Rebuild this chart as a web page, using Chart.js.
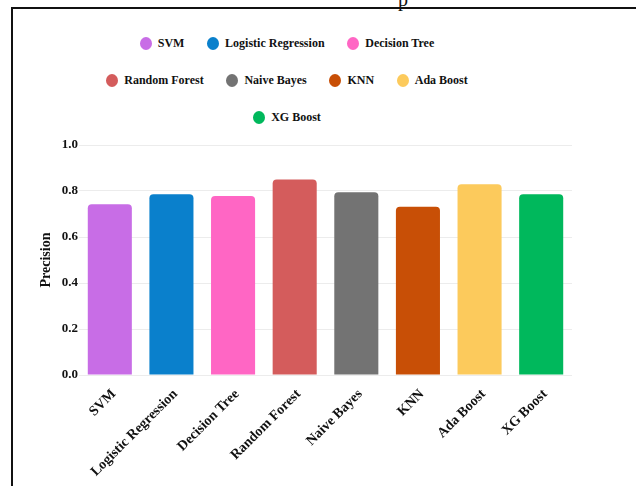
<!DOCTYPE html>
<html>
<head>
<meta charset="utf-8">
<script src="https://cdn.jsdelivr.net/npm/chart.js@4.4.1/dist/chart.umd.min.js"></script>
<style>
  body { margin: 0; width: 636px; height: 486px; background: #fff; position: relative; overflow: hidden; font-family: "Liberation Serif", serif; }
  #frame { position: absolute; left: 11px; top: 7px; width: 640px; height: 500px; border-left: 2px solid #111; border-top: 2px solid #111; }
  #top-title { position: absolute; left: 398px; top: -12px; font-size: 20px; color: #111; }
  #legend { position: absolute; left: 92px; top: 36px; width: 390px; display: flex; flex-wrap: wrap; justify-content: center; column-gap: 22.7px; row-gap: 23px; }
  .item { display: flex; align-items: center; height: 14px; font-weight: bold; font-size: 12px; color: #111; white-space: nowrap; }
  .dot { width: 12px; height: 13px; border-radius: 50%; margin-right: 6px; }
  #chart { position: absolute; left: 14px; top: 130px; }
</style>
</head>
<body>
<div id="frame"></div>
<div id="top-title">p</div>
<div id="legend"></div>
<canvas id="chart" width="622" height="356"></canvas>
<script>
const models = ["SVM", "Logistic Regression", "Decision Tree", "Random Forest", "Naive Bayes", "KNN", "Ada Boost", "XG Boost"];
const precision = [0.742, 0.786, 0.778, 0.850, 0.795, 0.732, 0.829, 0.786];
const barColors = ["#c86de6", "#0a80cc", "#ff66c4", "#d45c5c", "#737373", "#c84f06", "#fcca5c", "#00b85c"];
const yTicks = [0, 0.2, 0.4, 0.6, 0.8, 1.0];

// html legend, one entry per bar
const legendBox = document.getElementById("legend");
for (let i = 0; i < models.length; i++) {
  let item = document.createElement("div");
  item.className = "item";
  let dot = document.createElement("span");
  dot.className = "dot";
  dot.style.background = barColors[i];
  item.appendChild(dot);
  item.appendChild(document.createTextNode(models[i]));
  legendBox.appendChild(item);
}

const serif = "'Liberation Serif', 'Times New Roman', serif";

new Chart(document.getElementById("chart").getContext("2d"), {
  type: "bar",
  data: {
    labels: models,
    datasets: [{
      label: "Precision",
      data: precision,
      backgroundColor: barColors,
      borderRadius: 4,
      borderSkipped: "start",
      barPercentage: 0.715,
      categoryPercentage: 1.0
    }]
  },
  options: {
    responsive: false,
    animation: false,
    devicePixelRatio: 1,
    layout: { padding: { top: 15, right: 64, bottom: 0, left: 0 } },
    plugins: {
      legend: { display: false },
      tooltip: { enabled: false }
    },
    scales: {
      x: {
        grid: { display: false },
        border: { display: false },
        ticks: {
          minRotation: 45,
          maxRotation: 45,
          labelOffset: 4,
          color: "#111",
          font: { family: serif, size: 14, weight: "bold" }
        },
        afterFit: function (scale) { scale.height = 111; }
      },
      y: {
        min: 0,
        max: 1,
        afterBuildTicks: function (scale) { scale.ticks = yTicks.map(v => ({ value: v })); },
        grid: { color: "#ececec", drawTicks: false },
        border: { display: false },
        ticks: {
          padding: 1,
          color: "#111",
          font: { family: serif, size: 13, weight: "bold" },
          callback: function (v) { return Number(v).toFixed(1); }
        },
        title: {
          display: true,
          text: "Precision",
          color: "#111",
          padding: { top: 24, bottom: 0 },
          font: { family: serif, size: 14, weight: "bold" }
        },
        afterFit: function (scale) { scale.width = 65; }
      }
    }
  }
});
</script>
</body>
</html>
